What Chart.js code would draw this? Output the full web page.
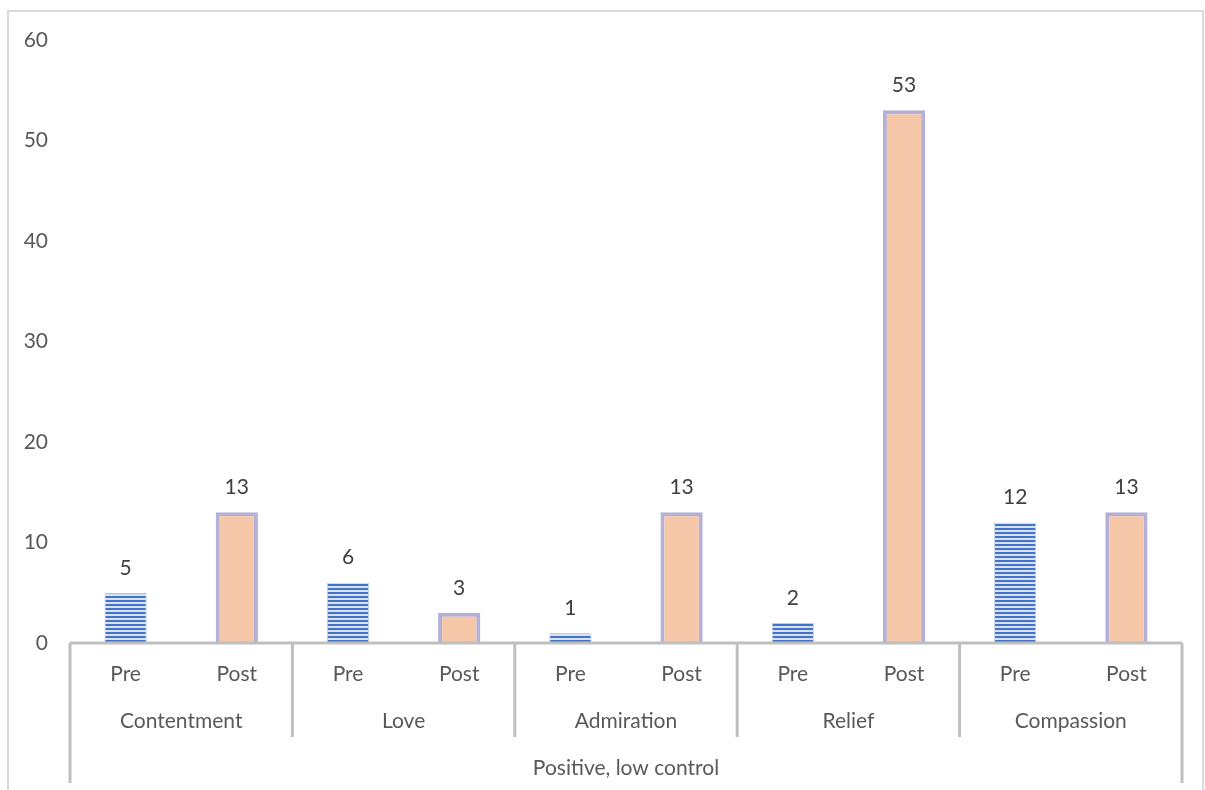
<!DOCTYPE html>
<html>
<head>
<meta charset="utf-8">
<script src="https://cdn.jsdelivr.net/npm/chart.js@4"></script>
<style>
  html, body { margin: 0; padding: 0; background: #fff; }
  #wrap { width: 1205px; height: 790px; }
</style>
</head>
<body>
<div id="wrap"><canvas id="emotionsPlot" width="1205" height="790"></canvas></div>
<script>
const phases = ['Pre', 'Post', 'Pre', 'Post', 'Pre', 'Post', 'Pre', 'Post', 'Pre', 'Post']
const emotions = ['Contentment', 'Love', 'Admiration', 'Relief', 'Compassion']
const counts = [5, 13, 6, 3, 1, 13, 2, 53, 12, 13]
const groupTitle = 'Positive, low control'
const yTicks = [0, 10, 20, 30, 40, 50, 60]

const FONT = 'Lato, "Open Sans", sans-serif'
const FONT_SIZE = 21
const AXIS_GREY = '#bfbfbf'

// striped fill for the "Pre" bars
function stripes() {
    const c = document.createElement('canvas')
    c.width = 4; c.height = 4
    const g = c.getContext('2d')
    g.fillStyle = '#d6e1f4'
    g.fillRect(0, 0, 4, 4)
    g.fillStyle = '#4472c4'
    g.fillRect(0, 0, 4, 2)
    return g.createPattern(c, 'repeat')
}
const preFill = stripes()

const groupAxis = {
    id: 'groupAxis',
    afterDraw(chart) {
        const ctx = chart.ctx
        const x = chart.scales.x
        const area = chart.chartArea
        const y0 = area.bottom

        ctx.save()
        // outer frame
        ctx.strokeStyle = '#d9d9d9'
        ctx.lineWidth = 2
        ctx.strokeRect(8, 11, 1195, 800)

        // bar value labels
        ctx.fillStyle = '#404040'
        ctx.font = FONT_SIZE + 'px ' + FONT
        ctx.textAlign = 'center'
        ctx.textBaseline = 'middle'
        chart.getDatasetMeta(0).data.forEach((bar, i) => {
            ctx.fillText(String(counts[i]), bar.x, bar.y - 25)
        })

        // axis line and group separators
        ctx.strokeStyle = AXIS_GREY
        ctx.lineWidth = 3
        ctx.beginPath()
        ctx.moveTo(x.getPixelForValue(-0.5), y0)
        ctx.lineTo(x.getPixelForValue(phases.length - 0.5), y0)
        ctx.stroke()
        for (let g = 0; g <= emotions.length; g++) {
            const px = x.getPixelForValue(g * 2 - 0.5)
            const outer = g === 0 || g === emotions.length
            ctx.beginPath()
            ctx.moveTo(px, y0)
            ctx.lineTo(px, outer ? y0 + 140 : y0 + 94)
            ctx.stroke()
        }

        // group labels
        ctx.fillStyle = '#595959'
        emotions.forEach((name, g) => {
            const cx = (x.getPixelForValue(g * 2) + x.getPixelForValue(g * 2 + 1)) / 2
            ctx.fillText(name, cx, y0 + 78)
        })
        ctx.fillText(groupTitle, (x.getPixelForValue(-0.5) + x.getPixelForValue(phases.length - 0.5)) / 2, y0 + 125)
        ctx.restore()
    }
}

new Chart(document.getElementById('emotionsPlot'), {
    type: 'bar',
    data: {
        labels: phases,
        datasets: [{
            data: counts,
            backgroundColor: phases.map(p => p === 'Pre' ? preFill : '#f5c7a8'),
            borderColor: phases.map(p => p === 'Pre' ? 'rgba(68,114,196,0.35)' : 'rgba(160,158,205,0.8)'),
            borderWidth: phases.map(p => p === 'Pre' ? 1 : 4),
            barPercentage: 0.38,
            categoryPercentage: 1
        }]
    },
    options: {
        responsive: false,
        animation: false,
        layout: { padding: { top: 40, right: 23, left: 0, bottom: 0 } },
        plugins: { legend: { display: false }, tooltip: { enabled: false } },
        scales: {
            x: {
                grid: { display: false, drawTicks: false },
                border: { display: false },
                ticks: { color: '#595959', font: { family: FONT, size: FONT_SIZE }, padding: 19, maxRotation: 0 },
                afterFit: s => { s.height = 147 }
            },
            y: {
                min: 0,
                max: 60,
                afterBuildTicks: s => { s.ticks = yTicks.map(v => ({ value: v })) },
                grid: { display: false, drawTicks: false },
                border: { display: false },
                ticks: { color: '#595959', font: { family: FONT, size: FONT_SIZE }, padding: 22 },
                afterFit: s => { s.width = 70 }
            }
        }
    },
    plugins: [groupAxis]
})
</script>
</body>
</html>
